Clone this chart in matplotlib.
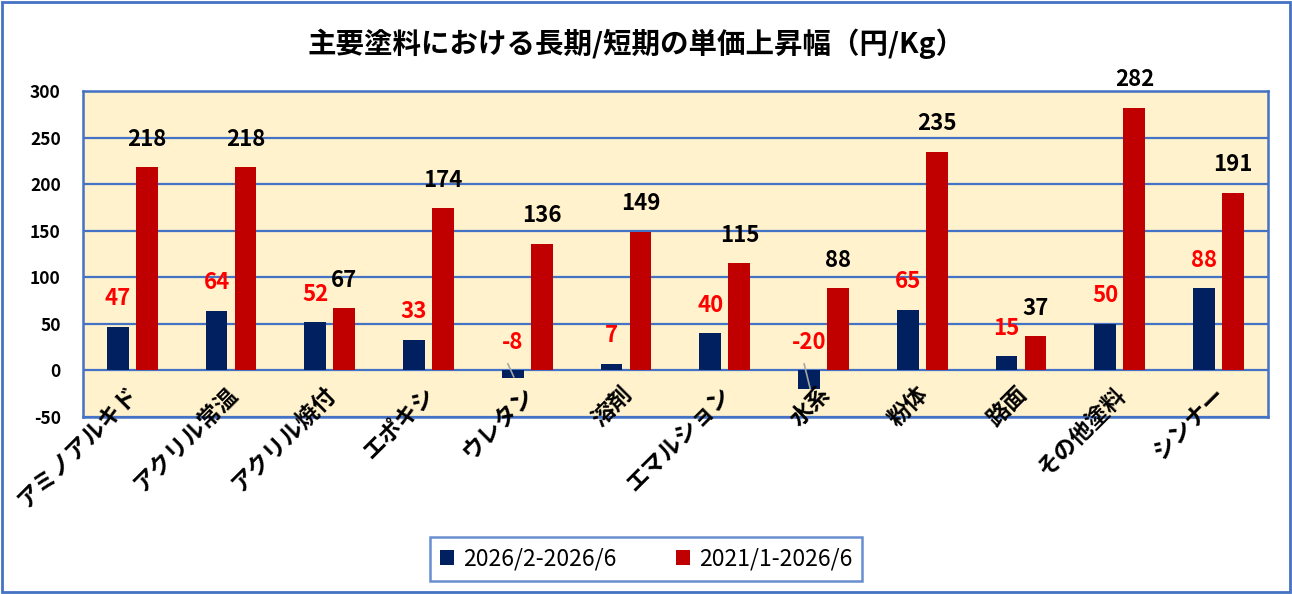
import matplotlib
matplotlib.use("Agg")
import matplotlib.pyplot as plt
import numpy as np

plt.rcParams['font.family'] = ['Noto Sans CJK JP', 'DejaVu Sans']

categories = ["アミノアルキド", "アクリル常温", "アクリル焼付", "エポキシ", "ウレタン", "溶剤",
              "エマルション", "水系", "粉体", "路面", "その他塗料", "シンナー"]
short_term = [47, 64, 52, 33, -8, 7, 40, -20, 65, 15, 50, 88]
long_term = [218, 218, 67, 174, 136, 149, 115, 88, 235, 37, 282, 191]
series_names = ["2026/2-2026/6", "2021/1-2026/6"]
title = "主要塗料における長期/短期の単価上昇幅（円/Kg）"
yticks = [-50, 0, 50, 100, 150, 200, 250, 300]

BLUE = "#002060"
RED = "#C00000"
FRAME = "#4472C4"

fig = plt.figure(figsize=(12.92, 5.94), dpi=100)
fig.patch.set_facecolor("white")
fig.add_artist(plt.Rectangle((0.0015, 0.003), 0.997, 0.994, transform=fig.transFigure,
                             fill=False, edgecolor=FRAME, linewidth=2))

ax = fig.add_axes([0.0642, 0.298, 0.9172, 0.5488])
ax.set_facecolor("#FFF2CC")
x = np.arange(len(categories))
w = 0.22
off = 0.147
b1 = ax.bar(x - off, short_term, w, color=BLUE, label=series_names[0], zorder=3)
b2 = ax.bar(x + off, long_term, w, color=RED, label=series_names[1], zorder=3)

ax.set_xlim(-0.5, len(categories) - 0.5)
ax.set_ylim(-50, 300)
ax.set_yticks(yticks)
ax.set_yticklabels([str(t) for t in yticks], fontsize=12.5, fontweight="bold")
ax.tick_params(axis="y", length=0, pad=16)
ax.set_xticks([])
ax.grid(axis="y", color=FRAME, linewidth=1.6, zorder=1)
ax.set_axisbelow(True)
for s in ax.spines.values():
    s.set_color(FRAME)
    s.set_linewidth(1.8)

for i, v in enumerate(short_term):
    ly = max(v, 0) + 30
    ax.text(i - off, ly, str(v), color="#FF0000", fontsize=16, fontweight="bold",
            ha="center", va="center", zorder=5)
    if v < 0:
        ax.plot([i - off - 0.05, i - off + 0.01], [7, v + 1], color="#A6A6A6",
                linewidth=1.2, zorder=4)
for i, v in enumerate(long_term):
    ax.text(i + off, v + 30, str(v), color="black", fontsize=16, fontweight="bold",
            ha="center", va="center", zorder=5)

for i, c in enumerate(categories):
    ax.text(i + 0.03, -22, c, rotation=45, rotation_mode="anchor", ha="right", va="center",
            fontsize=16.5, fontweight="bold", zorder=6)

fig.text(0.492, 0.927, title, ha="center", va="center", fontsize=20.5, fontweight="bold")

leg = fig.legend(handles=[b1, b2], labels=series_names, loc="center",
                 bbox_to_anchor=(0.5, 0.059), ncol=2, fontsize=16.5, frameon=True,
                 handlelength=0.6, handleheight=0.6, columnspacing=2.6, handletextpad=0.4,
                 borderpad=0.45, borderaxespad=0, fancybox=False)
leg.get_frame().set_edgecolor(FRAME)
leg.get_frame().set_linewidth(1.8)

fig.savefig("out.png", dpi=100)
